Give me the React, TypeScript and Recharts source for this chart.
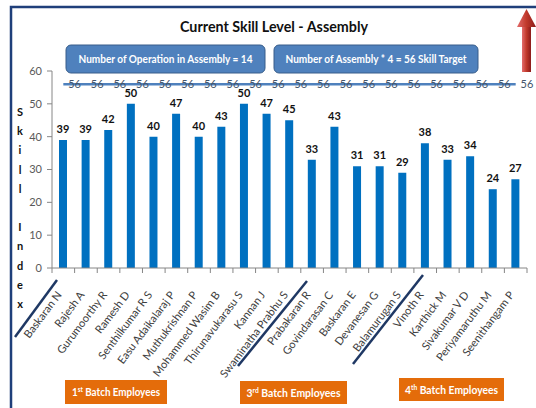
import React from 'react';
import { Bar, Line, XAxis, YAxis, LabelList, ComposedChart } from 'recharts';

const employees = [
  'Baskaran N', 'Rajesh A', 'Gurumoorthy R', 'Ramesh D', 'Senthilkumar R S',
  'Easu Adaikalaraj P', 'Muthukrishnan P', 'Mohammed Wasim B', 'Thirunavukarasu S',
  'Kannan J', 'Swaminatha Prabhu S', 'Prabakaran R', 'Govindarasan C', 'Baskaran E',
  'Devanesan G', 'Balamurugan S', 'Vinoth R', 'Karthick M', 'Sivakumar V D',
  'Periyamaruthu M', 'Seenithangam P',
];
const skillLevel = [39, 39, 42, 50, 40, 47, 40, 43, 50, 47, 45, 33, 43, 31, 31, 29, 38, 33, 34, 24, 27];
const skillTarget = [56, 56, 56, 56, 56, 56, 56, 56, 56, 56, 56, 56, 56, 56, 56, 56, 56, 56, 56, 56, 56];
const yTicks = [0, 10, 20, 30, 40, 50, 60];
const axisTitle = ['S', 'k', 'i', 'l', 'l', '', 'I', 'n', 'd', 'e', 'x'];

const data = employees.map((name, i) => ({ name, skill: skillLevel[i], target: skillTarget[i] }));

const W = 536;
const H = 408;
const plotLeft = 52;
const plotRight = 527;
const axisY = 268;
const band = (plotRight - plotLeft) / employees.length;
const font = 'Lato, "Open Sans", sans-serif';

// category ticks sit on the band edges, like the Excel original
const CategoryTick = (props: any) => {
  const { x, payload, index } = props;
  return (
    <g>
      <line x1={x - band / 2} x2={x - band / 2} y1={axisY} y2={axisY + 5} stroke="#868686" />
      {index === employees.length - 1 && (
        <line x1={x + band / 2} x2={x + band / 2} y1={axisY} y2={axisY + 5} stroke="#868686" />
      )}
      <text
        transform={`translate(${x - 1},${axisY + 27}) rotate(-53)`}
        textAnchor="end"
        fontSize={11}
        fill="#404040"
        fontFamily={font}
      >
        {payload.value}
      </text>
    </g>
  );
};

const targetLabel = (props: any) => {
  const { x, y, value } = props;
  return (
    <text x={x + band / 2} y={y} dy="0.36em" textAnchor="middle" fontSize={11} fill="#44546a" fontFamily={font}>
      {value}
    </text>
  );
};

export default function App() {
  return (
    <div style={{ position: 'absolute', left: 0, top: 0, width: W, height: H, background: '#fff', overflow: 'hidden' }}>
      <ComposedChart
        width={W}
        height={H}
        data={data}
        margin={{ top: 71, right: W - plotRight, left: 12, bottom: 10 }}
      >
        <XAxis
          dataKey="name"
          interval={0}
          tickLine={false}
          tickSize={0}
          tickMargin={0}
          height={130}
          axisLine={{ stroke: '#868686' }}
          tick={<CategoryTick />}
        />
        <YAxis
          width={40}
          domain={[0, 60]}
          ticks={yTicks}
          tickSize={5}
          tickMargin={5}
          axisLine={{ stroke: '#868686' }}
          tickLine={{ stroke: '#868686' }}
          tick={{ fontSize: 11, fill: '#595959', fontFamily: font }}
        />
        <Bar dataKey="skill" fill="#0070c0" barSize={8} isAnimationActive={false}>
          <LabelList dataKey="skill" position="top" offset={7} fontSize={11} fontWeight="bold" fill="#111" fontFamily={font} />
        </Bar>
        <Line dataKey="target" stroke="#4f81bd" strokeWidth={2.5} dot={false} isAnimationActive={false}>
          <LabelList dataKey="target" content={targetLabel} />
        </Line>
      </ComposedChart>

      <svg width={W} height={H} style={{ position: 'absolute', left: 0, top: 0, pointerEvents: 'none' }} fontFamily={font}>
        <defs>
          <linearGradient id="arrowFill" x1="0" x2="1" y1="0" y2="0">
            <stop offset="0" stopColor="#e36c6c" />
            <stop offset="0.5" stopColor="#c0392b" />
            <stop offset="1" stopColor="#8b1a1a" />
          </linearGradient>
        </defs>
        <path d={`M11 ${H + 2} V7 H${W + 2}`} fill="none" stroke="#1f3f7a" strokeWidth={2.5} />

        <text x={274} y={32} textAnchor="middle" fontSize={15.5} fontWeight="bold" fill="#111" textLength={188} lengthAdjust="spacingAndGlyphs">
          Current Skill Level - Assembly
        </text>

        <rect x={66} y={45} width={199} height={28} rx={5} fill="#4f81bd" stroke="#385d8a" />
        <text x={165.5} y={63} textAnchor="middle" fontSize={12} fontWeight="bold" fill="#fff" textLength={174} lengthAdjust="spacingAndGlyphs">
          Number of Operation in Assembly = 14
        </text>
        <rect x={274} y={45} width={204} height={28} rx={5} fill="#4f81bd" stroke="#385d8a" />
        <text x={376} y={63} textAnchor="middle" fontSize={12} fontWeight="bold" fill="#fff" textLength={181} lengthAdjust="spacingAndGlyphs">
          Number of Assembly * 4 = 56 Skill Target
        </text>

        <rect x={522} y={25} width={9} height={47} fill="url(#arrowFill)" />
        <polygon points="517,27 526.5,9 536,27" fill="url(#arrowFill)" />

        {axisTitle.map((ch, i) => (
          <text key={i} x={20} y={116 + i * 19.2} textAnchor="middle" fontSize={11} fontWeight="bold" fill="#111">
            {ch}
          </text>
        ))}

        <line x1={15} y1={337} x2={57} y2={280} stroke="#1f3864" strokeWidth={2.5} />
        <line x1={238} y1={366} x2={307} y2={281} stroke="#1f3864" strokeWidth={2.5} />
        <line x1={353} y1={364} x2={423} y2={275} stroke="#1f3864" strokeWidth={2.5} />

        <rect x={65} y={380} width={102} height={24} fill="#e46c0a" />
        <text x={116} y={396} textAnchor="middle" fontSize={11} fontWeight="bold" fill="#fff" textLength={88} lengthAdjust="spacingAndGlyphs">
          1<tspan fontSize={7} dy={-4}>st</tspan><tspan dy={4}> Batch Employees</tspan>
        </text>
        <rect x={240} y={381} width={107} height={23} fill="#e46c0a" />
        <text x={293.5} y={397} textAnchor="middle" fontSize={11} fontWeight="bold" fill="#fff" textLength={94} lengthAdjust="spacingAndGlyphs">
          3<tspan fontSize={7} dy={-4}>rd</tspan><tspan dy={4}>  Batch Employees</tspan>
        </text>
        <rect x={399} y={378} width={105} height={23} fill="#e46c0a" />
        <text x={451.5} y={394} textAnchor="middle" fontSize={11} fontWeight="bold" fill="#fff" textLength={93} lengthAdjust="spacingAndGlyphs">
          4<tspan fontSize={7} dy={-4}>th</tspan><tspan dy={4}>  Batch Employees</tspan>
        </text>
      </svg>
    </div>
  );
}
